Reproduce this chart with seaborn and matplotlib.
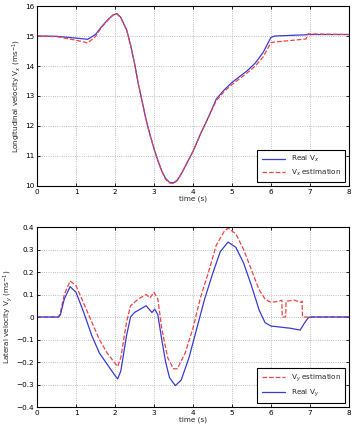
import numpy as np
import pandas as pd
import matplotlib
matplotlib.use("Agg")
import matplotlib.pyplot as plt
import seaborn as sns

# ==========================
# Dane
# ==========================
t_vx = [0.0, 0.5, 1.0, 1.3, 1.5, 1.65, 1.8, 1.95, 2.05, 2.15, 2.3, 2.4, 2.5, 2.6, 2.7, 2.8,
        2.9, 3.0, 3.1, 3.2, 3.3, 3.4, 3.5, 3.6, 3.7, 3.8, 3.9, 4.0, 4.2, 4.4, 4.6, 4.8,
        5.0, 5.2, 5.4, 5.6, 5.8, 6.0, 6.1, 6.9, 6.95, 8.0]
vx_real = [15.0, 14.99, 14.93, 14.89, 15.05, 15.3, 15.52, 15.7, 15.75, 15.62, 15.2, 14.7,
           14.1, 13.4, 12.8, 12.2, 11.7, 11.25, 10.85, 10.5, 10.25, 10.12, 10.1, 10.2, 10.4,
           10.65, 10.9, 11.15, 11.75, 12.3, 12.9, 13.2, 13.45, 13.65, 13.85, 14.1, 14.45,
           14.95, 15.0, 15.04, 15.05, 15.05]
vx_est = [15.0, 14.98, 14.86, 14.77, 14.98, 15.28, 15.5, 15.7, 15.74, 15.6, 15.2, 14.7,
          14.1, 13.4, 12.8, 12.2, 11.7, 11.25, 10.85, 10.5, 10.22, 10.1, 10.08, 10.18, 10.4,
          10.65, 10.9, 11.15, 11.75, 12.3, 12.85, 13.15, 13.38, 13.58, 13.78, 14.0, 14.3,
          14.78, 14.8, 14.9, 15.07, 15.05]

t_vy = [0.0, 0.55, 0.6, 0.7, 0.85, 1.0, 1.2, 1.4, 1.6, 1.8, 2.0, 2.07, 2.15, 2.3, 2.4, 2.5,
        2.7, 2.8, 2.9, 2.95, 3.02, 3.1, 3.2, 3.3, 3.4, 3.55, 3.7, 3.9, 4.1, 4.3, 4.5, 4.7,
        4.9, 5.1, 5.3, 5.5, 5.7, 5.85, 6.0, 6.5, 6.75, 6.85, 6.95, 7.0, 8.0]
vy_real = [0.0, 0.0, 0.01, 0.08, 0.135, 0.11, 0.02, -0.08, -0.16, -0.21, -0.26, -0.275,
           -0.24, -0.08, 0.0, 0.02, 0.04, 0.05, 0.03, 0.02, 0.035, 0.01, -0.1, -0.2, -0.27,
           -0.305, -0.28, -0.18, -0.05, 0.08, 0.19, 0.29, 0.333, 0.31, 0.24, 0.14, 0.03,
           -0.025, -0.04, -0.05, -0.058, -0.03, -0.005, 0.0, 0.0]

t_vy_est = [0.0, 0.55, 0.6, 0.7, 0.85, 1.0, 1.2, 1.4, 1.6, 1.8, 2.0, 2.07, 2.15, 2.3, 2.4,
            2.6, 2.8, 2.9, 3.0, 3.1, 3.2, 3.35, 3.5, 3.6, 3.8, 4.0, 4.2, 4.4, 4.6, 4.8, 4.9,
            5.1, 5.3, 5.5, 5.7, 5.85, 6.0, 6.2, 6.28, 6.29, 6.38, 6.39, 6.6, 6.78, 6.8,
            6.81, 8.0]
vy_est = [0.0, 0.0, 0.02, 0.1, 0.16, 0.14, 0.06, -0.02, -0.1, -0.16, -0.205, -0.22, -0.18,
          -0.02, 0.05, 0.08, 0.1, 0.085, 0.11, 0.08, -0.05, -0.18, -0.23, -0.23, -0.16,
          -0.05, 0.09, 0.2, 0.32, 0.38, 0.395, 0.37, 0.3, 0.21, 0.12, 0.08, 0.065, 0.07,
          0.075, 0.0, 0.0, 0.07, 0.075, 0.065, 0.07, 0.0, 0.0]

x_ticks = list(range(0, 9))
vx_ticks = [10, 11, 12, 13, 14, 15, 16]
vy_ticks = [-0.4, -0.3, -0.2, -0.1, 0, 0.1, 0.2, 0.3, 0.4]

BLUE = "#3a3ad6"
RED = "#ee4444"
FS = 5.2

# ==========================
# Styl
# ==========================
sns.set_style("whitegrid", {"grid.linestyle": ":", "grid.color": "#b0b0b0",
                            "axes.edgecolor": "black", "xtick.direction": "in",
                            "ytick.direction": "in", "xtick.bottom": True, "ytick.left": True})
plt.rcParams["font.family"] = ["DejaVu Sans"]
plt.rcParams["font.size"] = FS

fig = plt.figure(figsize=(3.54, 4.26), dpi=100)
ax1 = fig.add_axes([0.1045, 0.5634, 0.881, 0.4225])
ax2 = fig.add_axes([0.1045, 0.0446, 0.881, 0.4225])


def style_axes(ax, yticks, ylabel):
    ax.set_xlim(0, 8)
    ax.set_xticks(x_ticks)
    ax.set_ylim(yticks[0], yticks[-1])
    ax.set_yticks(yticks)
    ax.set_xlabel("time (s)", fontsize=FS, labelpad=0.5)
    ax.set_ylabel(ylabel, fontsize=FS, labelpad=1.5)
    ax.tick_params(labelsize=FS, length=2.5, width=0.6, pad=2, colors="black",
                   top=True, right=True)
    ax.grid(True, linestyle=":", linewidth=0.6, color="#aaaaaa")
    for sp in ax.spines.values():
        sp.set_linewidth(0.8)
        sp.set_color("black")


# Wykres prędkości wzdłużnej
df_vx = pd.DataFrame({"t": t_vx, "real": vx_real, "est": vx_est})
sns.lineplot(data=df_vx, x="t", y="real", ax=ax1, color=BLUE, linewidth=0.9,
             label="Real V$_x$")
sns.lineplot(data=df_vx, x="t", y="est", ax=ax1, color=RED, linewidth=0.9,
             linestyle="--", dashes=(4, 2.5), label="V$_x$ estimation")
style_axes(ax1, vx_ticks, "Longitudinal velocity V$_x$ (ms$^{-1}$)")
ax1.set_yticklabels([str(v) for v in vx_ticks])
leg1 = ax1.legend(loc="lower right", fontsize=FS, frameon=True, fancybox=False,
                  edgecolor="black", framealpha=1, borderpad=0.6, handlelength=3.2)
leg1.get_frame().set_linewidth(0.8)

# Wykres prędkości poprzecznej
df_real = pd.DataFrame({"t": t_vy, "v": vy_real})
df_est = pd.DataFrame({"t": t_vy_est, "v": vy_est})
sns.lineplot(data=df_est, x="t", y="v", ax=ax2, color=RED, linewidth=0.9,
             linestyle="--", dashes=(4, 2.5), label="V$_y$ estimation")
sns.lineplot(data=df_real, x="t", y="v", ax=ax2, color=BLUE, linewidth=0.9,
             label="Real V$_y$")
style_axes(ax2, vy_ticks, "Lateral velocity V$_y$ (ms$^{-1}$)")
ax2.set_yticklabels(["0" if v == 0 else f"{v:.1f}".replace("-", "\u2212") for v in vy_ticks])
leg2 = ax2.legend(loc="lower right", fontsize=FS, frameon=True, fancybox=False,
                  edgecolor="black", framealpha=1, borderpad=0.6, handlelength=3.2)
leg2.get_frame().set_linewidth(0.8)

fig.savefig("out.png", dpi=100)
